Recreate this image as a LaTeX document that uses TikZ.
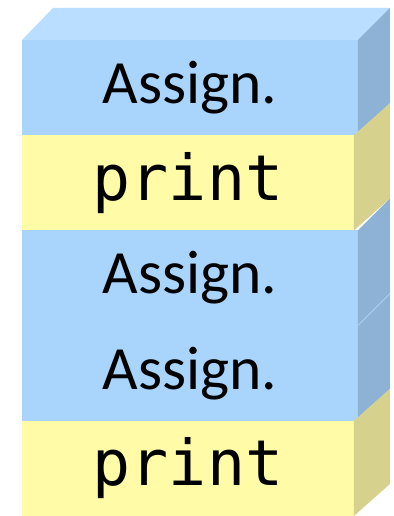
\documentclass[tikz,border=0pt]{standalone}
\usepackage{fontspec}
\setmainfont{Carlito}
\newfontfamily\codefont{DejaVu Sans Mono}
\usepackage{tikz}
\usetikzlibrary{positioning}

\definecolor{asgtop}{RGB}{186,222,255}
\definecolor{asgfront}{RGB}{169,213,253}
\definecolor{asgside}{RGB}{141,178,214}
\definecolor{prtfront}{RGB}{255,251,166}
\definecolor{prtside}{RGB}{214,210,142}

\begin{document}
\begin{tikzpicture}[x=0.02cm, y=-0.02cm, node distance=0pt,
    layer/.style={minimum height=1.904cm, inner sep=0pt, outer sep=0pt, anchor=north west},
    asg/.style={layer, minimum width=6.72cm, fill=asgfront, font=\fontsize{35}{40}\selectfont},
    prt/.style={layer, minimum width=6.64cm, fill=prtfront, font=\codefont\fontsize{36}{40}\selectfont}]
    \useasboundingbox (0,0) rectangle (394,516);

    \node[asg] (a1) at (22,40) {Assign.};
    \node[prt] (p1) at (a1.south west) {print};
    \node[asg] (a2) at (p1.south west) {Assign.};
    \node[asg] (a3) at (a2.south west) {Assign.};
    \node[prt] (p2) at (a3.south west) {print};

    % top of the stack
    \fill[asgtop] (a1.north west) -- (a1.north east) -- ++(32,-32) -- ++(-337,0) -- cycle;

    % right sides
    \foreach \n/\c/\d in {a1/asgside/32, p1/prtside/36, a2/asgside/32, a3/asgside/32, p2/prtside/36}
        \fill[\c] (\n.north east) -- ++(\d,-32) -- ++(0,95.2) -- (\n.south east) -- cycle;
    \draw[asgtop, line width=0.3pt] (a3.north east) -- ++(32,-32);
\end{tikzpicture}
\end{document}
